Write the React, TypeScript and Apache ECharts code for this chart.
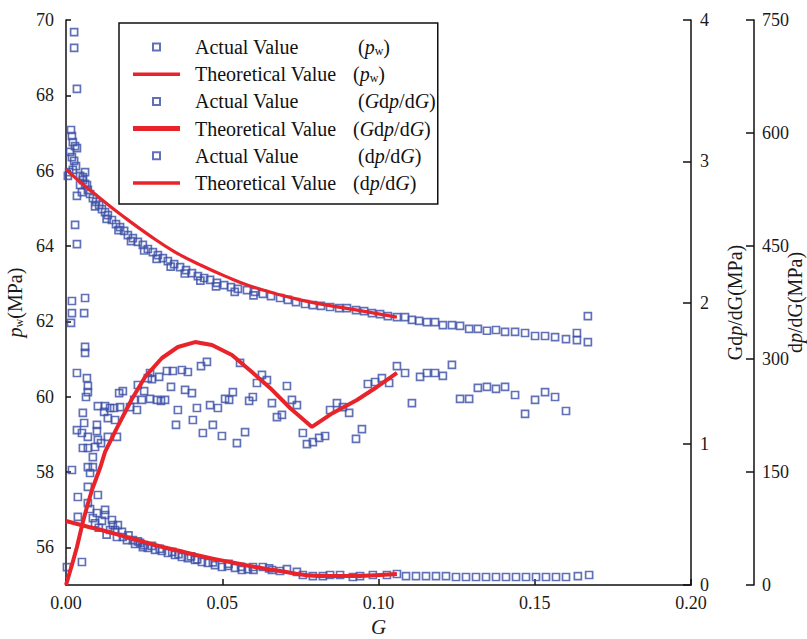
import React, { useEffect, useRef } from 'react';
import * as echarts from 'echarts';

const FONT = "'Liberation Serif', 'Times New Roman', serif";
const BLUE = '#3a4ea6';
const RED = '#e8232a';

const xTickValues = [0, 0.05, 0.1, 0.15, 0.2];
const pwTickValues = [56, 58, 60, 62, 64, 66, 68, 70];
const gdpTickValues = [0, 1, 2, 3, 4];
const dpTickValues = [0, 150, 300, 450, 600, 750];

const seriesNames = [
  'Actual Value (pw)',
  'Theoretical Value (pw)',
  'Actual Value (Gdp/dG)',
  'Theoretical Value (Gdp/dG)',
  'Actual Value (dp/dG)',
  'Theoretical Value (dp/dG)',
];

const legendLabels: Record<string, string> = {
  'Actual Value (pw)': '{g| }{a|Actual Value}{n| (}{i|p}{s|w}{n|)}',
  'Theoretical Value (pw)': '{g| }{a|Theoretical Value}{n|(}{i|p}{s|w}{n|)}',
  'Actual Value (Gdp/dG)': '{g| }{a|Actual Value}{n| (}{i|G}{n|d}{i|p}{n|/d}{i|G}{n|)}',
  'Theoretical Value (Gdp/dG)': '{g| }{a|Theoretical Value}{n|(}{i|G}{n|d}{i|p}{n|/d}{i|G}{n|)}',
  'Actual Value (dp/dG)': '{g| }{a|Actual Value}{n| (d}{i|p}{n|/d}{i|G}{n|)}',
  'Theoretical Value (dp/dG)': '{g| }{a|Theoretical Value}{n|(d}{i|p}{n|/d}{i|G}{n|)}',
};

// p_w actual [G, MPa]
const pwActual: number[][] = [
  [0.0026, 69.68], [0.0026, 69.26], [0.0035, 68.17], [0.0016, 67.08], [0.0019, 66.92],
  [0.0022, 66.76], [0.0029, 66.65], [0.0035, 66.6], [0.0013, 66.5], [0.0019, 66.36],
  [0.0026, 66.26], [0.0032, 66.12], [0.0022, 66.02], [0.001, 65.96], [0.0006, 65.86],
  [0.0035, 65.33], [0.0029, 64.56], [0.0035, 64.05], [0.0016, 61.96], [0.0019, 62.54],
  [0.0019, 62.22], [0.0061, 62.62], [0.0058, 62.22], [0.0061, 61.32], [0.0061, 61.16],
  [0.0054, 65.83], [0.0067, 65.62], [0.0061, 65.96], [0.0045, 65.62], [0.0051, 65.43],
  [0.0045, 65.86], [0.0054, 65.75], [0.0061, 65.65], [0.007, 65.49], [0.0077, 65.38],
  [0.0086, 65.27], [0.0096, 65.17], [0.0106, 65.09], [0.0115, 64.98], [0.0125, 64.9],
  [0.0134, 64.82], [0.0147, 64.69], [0.016, 64.58], [0.0173, 64.5], [0.0186, 64.4],
  [0.0198, 64.29], [0.0214, 64.21], [0.023, 64.11], [0.0246, 64.03], [0.0262, 63.92],
  [0.0278, 63.84], [0.0294, 63.76], [0.031, 63.68], [0.0326, 63.6], [0.0346, 63.52],
  [0.0365, 63.44], [0.0384, 63.36], [0.0403, 63.28], [0.0422, 63.2], [0.0442, 63.15],
  [0.0461, 63.1], [0.0483, 63.02], [0.0506, 62.96], [0.0528, 62.91], [0.055, 62.86],
  [0.0579, 62.83], [0.0605, 62.78], [0.063, 62.73], [0.0656, 62.67], [0.0685, 62.62],
  [0.071, 62.57], [0.0736, 62.51], [0.0765, 62.46], [0.079, 62.43], [0.0816, 62.41],
  [0.0845, 62.38], [0.0874, 62.35], [0.0899, 62.35], [0.0928, 62.3], [0.0954, 62.27],
  [0.0979, 62.22], [0.1005, 62.19], [0.103, 62.14], [0.1059, 62.11],
  [0.0093, 65.05], [0.013, 64.72], [0.0168, 64.42], [0.0208, 64.13], [0.025, 63.88],
  [0.029, 63.66], [0.0335, 63.45], [0.038, 63.27], [0.043, 63.08], [0.048, 62.93],
  [0.054, 62.78], [0.06, 62.69],
  [0.1085, 62.11], [0.1107, 62.04], [0.113, 62.01], [0.1155, 61.98], [0.1181, 61.98],
  [0.1206, 61.9], [0.1235, 61.9], [0.1261, 61.88], [0.129, 61.8], [0.1318, 61.8],
  [0.1347, 61.75], [0.1376, 61.77], [0.1405, 61.72], [0.1437, 61.72], [0.1469, 61.69],
  [0.1501, 61.61], [0.1533, 61.61], [0.1565, 61.58], [0.16, 61.53], [0.1635, 61.69],
  [0.1635, 61.5], [0.167, 62.14], [0.167, 61.45],
];

// p_w theoretical [G, MPa]
const pwTheory: number[][] = [
  [0, 66.04], [0.0045, 65.7], [0.0109, 65.27], [0.0173, 64.85], [0.0269, 64.27],
  [0.0349, 63.84], [0.0429, 63.5], [0.0509, 63.2], [0.0589, 62.94], [0.0749, 62.57],
  [0.0909, 62.33], [0.1059, 62.11],
];

// G dp/dG actual [G, MPa]
const gdpActual: number[][] = [
  [0.0035, 1.501], [0.0067, 1.465], [0.007, 1.409], [0.007, 1.366], [0.0064, 1.331],
  [0.0054, 1.218], [0.0058, 1.147], [0.0035, 1.097], [0.0051, 1.076], [0.007, 1.048],
  [0.0054, 0.97], [0.007, 0.97], [0.0093, 0.977], [0.0086, 0.906], [0.007, 0.835],
  [0.0086, 0.835], [0.0077, 0.793], [0.0019, 0.814], [0.0102, 1.267], [0.0099, 1.133],
  [0.0099, 1.09], [0.0102, 1.027], [0.0038, 0.623], [0.007, 0.694], [0.0003, 0.127],
  [0.0051, 0.163],
  [0.0122, 1.225], [0.0125, 1.267], [0.0134, 1.182], [0.0141, 1.253], [0.0154, 1.253],
  [0.0157, 1.168], [0.0173, 1.26], [0.0112, 1.005], [0.0134, 1.048], [0.0163, 1.048],
  [0.017, 1.359], [0.0182, 1.373], [0.0205, 1.26], [0.0218, 1.31], [0.0227, 1.239],
  [0.023, 1.416], [0.0243, 1.31], [0.025, 1.373], [0.0262, 1.465], [0.0269, 1.501],
  [0.0269, 1.317], [0.0275, 1.458], [0.0291, 1.31], [0.0298, 1.473], [0.0304, 1.303],
  [0.0317, 1.31], [0.0323, 1.515], [0.0336, 1.402], [0.0342, 1.515], [0.0352, 1.133],
  [0.0358, 1.239], [0.0371, 1.522], [0.0381, 1.381], [0.039, 1.508], [0.0403, 1.359],
  [0.0406, 1.168], [0.0419, 1.253],
  [0.0432, 1.55], [0.0451, 1.579], [0.0438, 1.076], [0.0461, 1.274], [0.047, 1.133],
  [0.0486, 1.253], [0.0499, 1.055], [0.0509, 1.317], [0.0522, 1.31], [0.0534, 1.366],
  [0.0547, 1.005], [0.0557, 1.572], [0.0573, 1.083], [0.0586, 1.303], [0.0598, 1.331],
  [0.0611, 1.43], [0.0627, 1.487], [0.0643, 1.451], [0.0659, 1.288], [0.0675, 1.189],
  [0.0691, 1.204], [0.0707, 1.409], [0.0723, 1.31], [0.0739, 1.274], [0.0758, 1.076],
  [0.0771, 0.998], [0.079, 1.012], [0.081, 1.041], [0.0829, 1.055], [0.0845, 1.239],
  [0.0867, 1.288], [0.0886, 1.26], [0.0906, 1.218], [0.0928, 1.034], [0.0947, 1.104],
  [0.0966, 1.423], [0.0989, 1.437], [0.1011, 1.465], [0.1034, 1.43], [0.1059, 1.55],
  [0.1085, 1.501], [0.1107, 1.288], [0.1133, 1.473], [0.1155, 1.501], [0.1181, 1.501],
  [0.1206, 1.48], [0.1235, 1.558], [0.1261, 1.317], [0.129, 1.317], [0.1318, 1.395],
  [0.1347, 1.402], [0.1376, 1.388], [0.1405, 1.402], [0.1437, 1.345], [0.1469, 1.211],
  [0.1501, 1.31], [0.1533, 1.366], [0.1565, 1.331], [0.16, 1.232],
];

// G dp/dG theoretical [G, MPa]
const gdpTheory: number[][] = [
  [0, 0], [0.0019, 0.142], [0.0035, 0.269], [0.0054, 0.446], [0.0067, 0.552],
  [0.0083, 0.673], [0.0109, 0.828], [0.0125, 0.942], [0.0163, 1.112], [0.0211, 1.317],
  [0.0253, 1.473], [0.0307, 1.607], [0.0358, 1.685], [0.0413, 1.72], [0.0467, 1.699],
  [0.0531, 1.628], [0.0595, 1.508], [0.0653, 1.395], [0.0717, 1.253], [0.0787, 1.119],
  [0.0854, 1.218], [0.0931, 1.31], [0.0995, 1.402], [0.1059, 1.501],
];

// dp/dG actual [G, MPa]
const dpActual: number[][] = [
  [0.0038, 90.3], [0.007, 108.8], [0.0102, 119.5], [0.0077, 100.9], [0.0099, 95.6],
  [0.0125, 99.6], [0.0125, 92.9], [0.0086, 88.9], [0.0115, 85.0], [0.0147, 86.3],
  [0.015, 79.6], [0.0166, 79.6], [0.0141, 73.0], [0.0157, 73.0], [0.0179, 70.4],
  [0.0163, 63.7], [0.0182, 63.7], [0.0195, 59.7], [0.0214, 59.7], [0.0221, 54.4],
  [0.0237, 55.8], [0.0246, 50.4], [0.0262, 49.1], [0.0285, 46.5], [0.0307, 45.1],
  [0.0326, 42.5], [0.0349, 39.8], [0.0371, 37.2], [0.039, 35.8], [0.0413, 33.2],
  [0.0435, 30.5], [0.0454, 29.2], [0.0477, 26.5], [0.0499, 23.9], [0.0518, 25.2],
  [0.0541, 22.6], [0.0563, 19.9], [0.0582, 21.2], [0.0598, 23.9], [0.063, 23.9],
  [0.0659, 19.9], [0.0685, 18.6], [0.0707, 21.2], [0.0739, 17.3], [0.0758, 13.3],
  [0.079, 11.9], [0.0822, 11.9], [0.0845, 13.3], [0.0877, 13.3], [0.0918, 10.6],
  [0.0941, 11.9], [0.0982, 13.3], [0.1027, 13.3], [0.1059, 14.6],
  [0.0093, 82], [0.0105, 76], [0.013, 67], [0.02, 66], [0.023, 58], [0.025, 53],
  [0.0275, 52], [0.03, 48], [0.034, 44], [0.036, 41], [0.04, 38], [0.042, 34],
  [0.047, 30], [0.052, 28], [0.056, 24], [0.06, 20], [0.065, 22],
  [0.1088, 11.9], [0.112, 11.9], [0.1152, 11.9], [0.1184, 11.9], [0.1216, 11.9],
  [0.1248, 10.6], [0.128, 10.6], [0.1312, 10.6], [0.1344, 10.6], [0.1376, 10.6],
  [0.1408, 10.6], [0.144, 10.6], [0.1472, 10.6], [0.1504, 10.6], [0.1536, 10.6],
  [0.1568, 10.6], [0.16, 10.6], [0.1638, 11.9], [0.1674, 13.3],
];

// dp/dG theoretical [G, MPa]
const dpTheory: number[][] = [
  [0, 84.95], [0.0061, 78.3], [0.0125, 71.7], [0.0205, 62.4], [0.0285, 53.1],
  [0.0365, 45.1], [0.0445, 37.2], [0.0525, 30.5], [0.0605, 23.9], [0.0685, 18.6],
  [0.0765, 13.3], [0.0813, 11.9], [0.0909, 11.9], [0.1005, 13.3], [0.1059, 14.6],
];

const labelStyle = { fontFamily: FONT, fontSize: 18, color: '#1a1a1a' };
const axisLineStyle = { show: true, lineStyle: { color: '#111', width: 1.5 } };
const nameRich = {
  n: { fontFamily: FONT, fontSize: 20, color: '#1a1a1a' },
  i: { fontFamily: FONT, fontSize: 20, fontStyle: 'italic', color: '#1a1a1a' },
  s: { fontFamily: FONT, fontSize: 12, color: '#1a1a1a', verticalAlign: 'bottom', lineHeight: 12 },
};

const SQUARE_ICON = 'path://M0,0L10,0L10,10L0,10Z';
const lineIcon = (h: number) => `path://M0,0L47,0L47,${h}L0,${h}Z`;

function scatter(name: string, data: number[][], yAxisIndex: number) {
  return {
    name,
    type: 'scatter',
    yAxisIndex,
    data,
    symbol: 'rect',
    symbolSize: 7,
    z: 2,
    itemStyle: { color: 'rgba(255,255,255,0)', borderColor: BLUE, borderWidth: 1.7 },
  };
}

function line(name: string, data: number[][], yAxisIndex: number, width: number, smooth: boolean) {
  return {
    name,
    type: 'line',
    yAxisIndex,
    data,
    symbol: 'none',
    showSymbol: false,
    smooth,
    z: 3,
    itemStyle: { color: RED },
    lineStyle: { color: RED, width },
  };
}

export default function App() {
  const ref = useRef<HTMLDivElement>(null);
  useEffect(() => {
    const chart = echarts.init(ref.current!, null, { renderer: 'svg' });
    chart.setOption({
      animation: false,
      backgroundColor: '#fff',
      grid: { left: 66, right: 116, top: 20, bottom: 54, containLabel: false, outerBoundsMode: 'none' },
      legend: {
        orient: 'vertical',
        left: 119,
        top: 23,
        padding: [14, 2, 11, 14],
        borderColor: '#111',
        borderWidth: 1.5,
        backgroundColor: '#fff',
        itemWidth: 47,
        itemHeight: 7,
        itemGap: 7.2,
        selectedMode: false,
        data: [
          { name: seriesNames[0], icon: SQUARE_ICON },
          { name: seriesNames[1], icon: lineIcon(3.5), itemStyle: { color: RED, borderWidth: 0 } },
          { name: seriesNames[2], icon: SQUARE_ICON },
          { name: seriesNames[3], icon: lineIcon(5), itemStyle: { color: RED, borderWidth: 0 } },
          { name: seriesNames[4], icon: SQUARE_ICON },
          { name: seriesNames[5], icon: lineIcon(3.5), itemStyle: { color: RED, borderWidth: 0 } },
        ],
        formatter: (name: string) => legendLabels[name],
        textStyle: {
          fontFamily: FONT,
          fontSize: 20,
          color: '#111',
          lineHeight: 20,
          rich: {
            g: { width: 10, fontSize: 20, lineHeight: 20 },
            a: { width: 158, fontFamily: FONT, fontSize: 20, lineHeight: 20, color: '#111' },
            n: { fontFamily: FONT, fontSize: 20, lineHeight: 20, color: '#111' },
            i: { fontFamily: FONT, fontSize: 20, lineHeight: 20, fontStyle: 'italic', color: '#111' },
            s: { fontFamily: FONT, fontSize: 12, lineHeight: 12, verticalAlign: 'bottom', color: '#111' },
          },
        },
      },
      xAxis: {
        type: 'value',
        min: 0,
        max: 0.2,
        interval: 0.05,
        name: 'G',
        nameLocation: 'middle',
        nameGap: 23,
        nameTextStyle: { fontFamily: FONT, fontSize: 21, fontStyle: 'italic', color: '#1a1a1a' },
        axisLine: axisLineStyle,
        axisTick: { show: true, inside: true, length: 6, customValues: xTickValues, lineStyle: { color: '#111', width: 1.5 } },
        axisLabel: { ...labelStyle, margin: 9, customValues: xTickValues, formatter: (v: number) => v.toFixed(2) },
        splitLine: { show: false },
      },
      yAxis: [
        {
          type: 'value',
          position: 'left',
          min: 55,
          max: 70,
          name: '{i|p}{s|w}{n|(MPa)}',
          nameLocation: 'middle',
          nameRotate: 90,
          nameGap: 27,
          nameTextStyle: { rich: nameRich },
          axisLine: axisLineStyle,
          axisTick: { show: true, inside: true, length: 5, customValues: pwTickValues, lineStyle: { color: '#111', width: 1.5 } },
          axisLabel: { ...labelStyle, margin: 12, customValues: pwTickValues },
          splitLine: { show: false },
        },
        {
          type: 'value',
          position: 'right',
          min: 0,
          max: 4,
          interval: 1,
          name: '{n|Gd}{i|p}{n|/dG(MPa)}',
          nameLocation: 'middle',
          nameRotate: 90,
          nameGap: 34,
          nameMoveOverlap: false,
          nameTextStyle: { rich: nameRich },
          axisLine: axisLineStyle,
          axisTick: { show: true, inside: true, length: 8, customValues: gdpTickValues, lineStyle: { color: '#111', width: 1.5 } },
          axisLabel: { ...labelStyle, margin: 9, customValues: gdpTickValues },
          splitLine: { show: false },
        },
        {
          type: 'value',
          position: 'right',
          offset: 63,
          min: 0,
          max: 750,
          interval: 150,
          name: '{n|d}{i|p}{n|/dG(MPa)}',
          nameLocation: 'middle',
          nameRotate: 90,
          nameGap: 31,
          nameMoveOverlap: false,
          nameTextStyle: { rich: nameRich },
          axisLine: axisLineStyle,
          axisTick: { show: true, inside: true, length: 8, customValues: dpTickValues, lineStyle: { color: '#111', width: 1.5 } },
          axisLabel: { ...labelStyle, margin: 8, customValues: dpTickValues },
          splitLine: { show: false },
        },
      ],
      series: [
        scatter(seriesNames[0], pwActual, 0),
        line(seriesNames[1], pwTheory, 0, 3.2, true),
        scatter(seriesNames[2], gdpActual, 1),
        line(seriesNames[3], gdpTheory, 1, 4, false),
        scatter(seriesNames[4], dpActual, 2),
        line(seriesNames[5], dpTheory, 2, 4, true),
      ],
    });
    return () => chart.dispose();
  }, []);
  return (
    <div
      ref={ref}
      style={{ position: 'fixed', left: 0, top: 0, width: 807, height: 639, background: '#fff' }}
    />
  );
}
